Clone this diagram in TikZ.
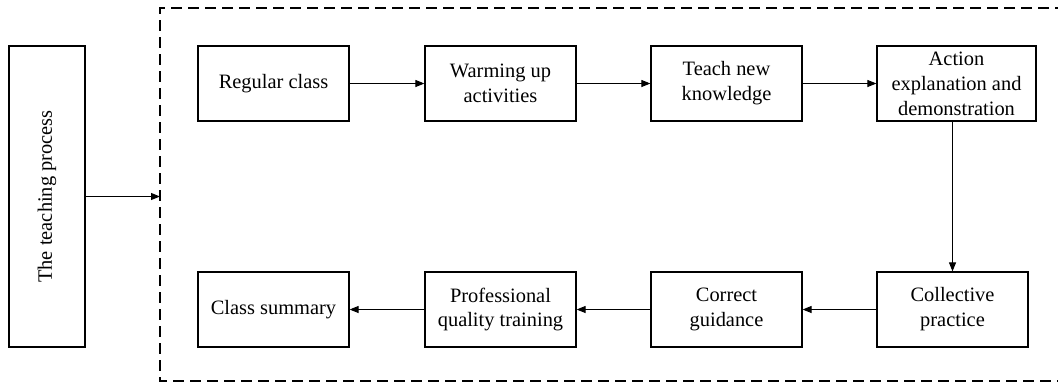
\documentclass[tikz,border=0pt]{standalone}
\usepackage{fontspec}
\setmainfont{Liberation Serif}
\usetikzlibrary{arrows.meta}
\begin{document}
\begin{tikzpicture}[x=1bp,y=-1bp,
  stepbox/.style={draw, line width=1.2bp, minimum height=75bp, align=center,
    inner sep=1bp, font=\fontsize{20.5}{25}\selectfont},
  flow/.style={line width=1bp, -{Triangle[length=9bp,width=7bp]}},
  frame/.style={line width=1.1bp, dash pattern=on 11bp off 6bp}]
\useasboundingbox (0,0) rectangle (1058,387);

% outer label box
\node[stepbox, minimum width=76bp, minimum height=301bp] (proc) at (47,196.5)
  {\rotatebox{90}{The teaching process}};

% dashed frame around the detailed steps (open on the right)
\coordinate (ftr) at (1066,8);
\coordinate (ftl) at (160,8);
\coordinate (fbl) at (160,381);
\coordinate (fbr) at (1066,381);
\coordinate (fin) at (160,196.5);
\draw[frame] (ftr) -- (ftl) -- (fbl) -- (fbr);

% top row
\node[stepbox, minimum width=151bp] (regular) at (273.5,83.5) {Regular class};
\node[stepbox, minimum width=151bp] (warm) at (500.5,83.5) {Warming up\\activities};
\node[stepbox, minimum width=151bp] (teach) at (726.5,83.5) {Teach new\\knowledge};
\node[stepbox, minimum width=159bp] (action) at (956.5,83.5) {Action\\explanation and\\demonstration};

% bottom row
\node[stepbox, minimum width=151bp] (collect) at (952.5,309.5) {Collective\\practice};
\node[stepbox, minimum width=151bp] (correct) at (726.5,309.5) {Correct\\guidance};
\node[stepbox, minimum width=151bp] (prof) at (500.5,309.5) {Professional\\quality training};
\node[stepbox, minimum width=151bp] (summary) at (273.5,309.5) {Class summary};

% connectors
\draw[flow] (proc.east |- fin) -- (fin);
\draw[flow] (regular) -- (warm);
\draw[flow] (warm) -- (teach);
\draw[flow] (teach) -- (action);
\draw[flow] (collect.north |- action.south) -- (collect.north);
\draw[flow] (collect) -- (correct);
\draw[flow] (correct) -- (prof);
\draw[flow] (prof) -- (summary);
\end{tikzpicture}
\end{document}
